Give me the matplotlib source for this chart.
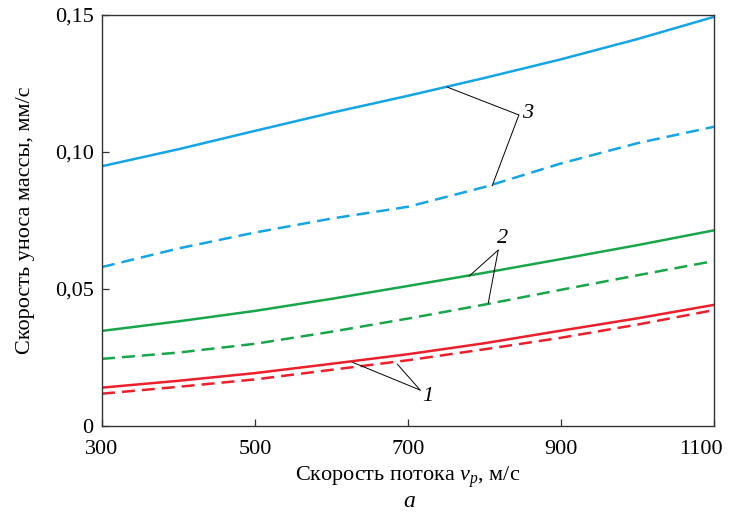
import numpy as np
import matplotlib.pyplot as plt
import matplotlib.transforms as mtransforms
from matplotlib.ticker import FixedLocator, FuncFormatter

plt.rcParams['font.family'] = ['Liberation Serif', 'DejaVu Serif']
plt.rcParams['mathtext.fontset'] = 'custom'
plt.rcParams['mathtext.rm'] = 'Liberation Serif'
plt.rcParams['mathtext.it'] = 'Liberation Serif:italic'

# скорость потока, м/с
v = [300, 400, 500, 600, 700, 800, 900, 1000, 1100]

# скорость уноса массы, мм/с
c3_solid = [0.0948, 0.101, 0.1077, 0.1143, 0.1205, 0.127, 0.1338, 0.1412, 0.1493]
c3_dash = [0.058, 0.0648, 0.0706, 0.0757, 0.080, 0.0872, 0.0958, 0.1032, 0.1092]
c2_solid = [0.0347, 0.0382, 0.042, 0.0464, 0.0511, 0.0559, 0.0609, 0.066, 0.0714]
c2_dash = [0.0245, 0.0268, 0.030, 0.0344, 0.0392, 0.0443, 0.0497, 0.055, 0.0602]
c1_solid = [0.014, 0.0165, 0.0193, 0.0227, 0.0262, 0.0302, 0.0348, 0.0393, 0.0442]
c1_dash = [0.0118, 0.0143, 0.017, 0.0205, 0.024, 0.028, 0.0322, 0.037, 0.0423]

blue = '#14a5e6'
green = '#18a64a'
red = '#ec1f2b'

# подписи кривых: номер, позиция текста, узел, концы выносок
labels = [
    ('3', (856, 0.1142), (845, 0.1135), [(751, 0.1237), (810, 0.0876)]),
    ('2', (823, 0.0686), (818, 0.0642), [(780, 0.0547), (805, 0.0449)]),
    ('1', (726, 0.0106), (716, 0.0131), [(628, 0.0232), (686, 0.0226)]),
]

fig = plt.figure(figsize=(7.3, 5.15), dpi=100)
ax = fig.add_axes([0.1397, 0.1728, 0.8383, 0.7982])

dash = (5.2, 2.8)
ax.plot(v, c3_solid, color=blue, lw=1.8)
ax.plot(v, c3_dash, color=blue, lw=1.8, dashes=dash)
ax.plot(v, c2_solid, color=green, lw=1.8)
ax.plot(v, c2_dash, color=green, lw=1.8, dashes=dash)
ax.plot(v, c1_solid, color=red, lw=1.8)
ax.plot(v, c1_dash, color=red, lw=1.8, dashes=dash)

for txt, tpos, joint, ends in labels:
    for e in ends:
        ax.annotate('', xy=e, xytext=joint,
                    arrowprops=dict(arrowstyle='-', color='black', lw=0.7,
                                    shrinkA=0, shrinkB=0))
    ax.text(tpos[0], tpos[1], txt, fontsize=16, style='italic',
            ha='center', va='center')

ax.set_xlim(300, 1100)
ax.set_ylim(0, 0.15)
ax.xaxis.set_major_locator(FixedLocator([300, 500, 700, 900, 1100]))
ax.yaxis.set_major_locator(FixedLocator([0, 0.05, 0.10, 0.15]))
ax.yaxis.set_major_formatter(FuncFormatter(
    lambda y, p: '0' if y == 0 else f'{y:.2f}'.replace('.', ',')))
ax.tick_params(direction='in', length=5, width=0.9, labelsize=16,
               color='#333333')
ax.tick_params(axis='y', pad=6)
ax.tick_params(axis='x', pad=10)
for s in ax.spines.values():
    s.set_linewidth(1.0)
    s.set_color('#333333')

# последняя подпись по оси x сдвинута влево, чтобы не выходить за край
last = ax.get_xticklabels()[-1]
last.set_transform(last.get_transform() +
                   mtransforms.ScaledTranslation(-0.13, 0, fig.dpi_scale_trans))

ax.set_xlabel('Скорость потока $v_p$, м/с', fontsize=16, labelpad=4)
ax.set_ylabel('Скорость уноса массы, мм/с', fontsize=16, labelpad=14)
fig.text(0.56, 0.015, 'a', fontsize=17, style='italic', ha='center')

fig.savefig('out.png', dpi=100)
